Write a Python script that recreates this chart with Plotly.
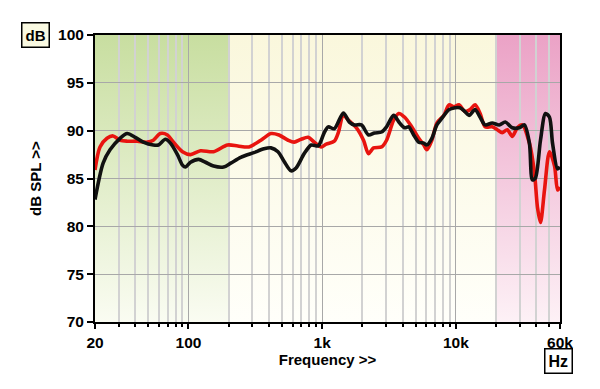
import base64
import numpy as np
import plotly.graph_objects as go

# ---- data ----
black_freq = [20, 23.0, 25.9, 30.8, 34.8, 40.0, 45.9, 54.6, 59.6, 67.2, 73.3, 82.7, 90.2, 95,
              103.6, 119, 134, 154, 183, 207, 246, 308, 367, 414, 467, 518, 585, 638, 733, 828,
              934, 984, 1036, 1110, 1231, 1439, 1596, 1742, 1965, 2219, 2461, 2780, 3029, 3420,
              3793, 4138, 4434, 4833, 5271, 5751, 6057, 6607, 7200, 7855, 8870, 9840, 10720,
              11690, 12530, 13900, 15170, 16530, 18660, 21090, 23390, 26380, 29780, 32490,
              35420, 37320, 39310, 42870, 46750, 50060, 52750, 57560, 60000]
black_db = [82.8, 86.6, 88.0, 89.2, 89.7, 89.3, 88.8, 88.5, 88.5, 89.1, 88.7, 87.5, 86.4, 86.2,
            86.7, 87.0, 86.7, 86.3, 86.2, 86.6, 87.2, 87.7, 88.1, 88.2, 87.8, 86.8, 85.8, 86.1,
            87.6, 88.5, 88.4, 89.0, 89.8, 90.4, 90.2, 91.85, 90.9, 90.6, 90.6, 89.55, 89.76,
            89.86, 90.4, 91.6, 90.8, 90.3, 90.4, 89.55, 88.8, 88.7, 88.5, 89.2, 90.6, 91.3,
            92.2, 92.4, 92.4, 92.0, 91.6, 92.2, 91.4, 90.6, 90.8, 90.6, 90.9, 90.3, 90.3, 90.6,
            88.7, 84.85, 85.06, 89.0, 91.8, 91.4, 88.7, 86.0, 86.2]

red_freq = [20, 21.8, 24.6, 27.3, 30.8, 34.8, 41.4, 49.2, 54.6, 61.6, 69.6, 77.2, 90.2, 103.6,
            123, 154, 196, 234, 283, 348, 414, 475, 556, 617, 696, 785, 872, 984, 1072, 1231,
            1320, 1439, 1570, 1804, 2037, 2219, 2421, 2780, 3029, 3420, 3730, 4138, 4670, 5271,
            5751, 6057, 6607, 7200, 8130, 8870, 9664, 10540, 11690, 12760, 13900, 15170, 16530,
            18660, 20370, 22200, 24210, 26380, 28770, 31350, 35420, 38640, 40700, 42870, 45940,
            50060, 54620, 57560, 60000]
red_db = [85.9, 88.3, 89.2, 89.45, 89.0, 88.9, 88.9, 88.8, 89.0, 89.7, 89.55, 88.8, 87.8, 87.5,
          87.9, 87.8, 88.5, 88.4, 88.3, 89.0, 89.7, 89.55, 89.0, 88.8, 89.1, 89.3, 88.8, 88.3,
          88.6, 88.9, 89.8, 91.6, 91.1, 90.3, 89.0, 87.6, 88.2, 88.3, 89.0, 91.1, 91.8, 91.4,
          90.4, 89.2, 88.5, 88.0, 89.0, 90.8, 91.6, 92.7, 92.5, 92.7, 92.0, 92.2, 92.7, 91.8,
          90.4, 90.4, 90.1, 89.8, 90.1, 89.4, 90.3, 90.6, 88.7, 85.6, 82.0, 80.4, 83.8, 87.8,
          86.3, 83.8, 84.1]

x_tick_vals = [20, 100, 1000, 10000, 60000]
x_tick_text = ["20", "100", "1k", "10k", "60k"]
x_minor_vals = [30, 40, 50, 60, 70, 80, 90, 200, 300, 400, 500, 600, 700, 800, 900,
                2000, 3000, 4000, 5000, 6000, 7000, 8000, 9000, 20000, 30000, 40000, 50000]
y_tick_vals = [70, 75, 80, 85, 90, 95, 100]

band_edges = [20, 200, 20000, 60000]   # green / yellow / pink regions

# ---- background gradient image (SVG data URI) ----
lo, hi = np.log10(20), np.log10(60000)
fr = [(np.log10(v) - lo) / (hi - lo) * 1000 for v in band_edges]
bands = [("g", "#c8dea0", "#fafcf2"), ("y", "#faf7dc", "#fffffa"), ("p", "#eba2c6", "#fdf1f6")]
defs = "".join(
    f'<linearGradient id="{n}" x1="0" y1="0" x2="0" y2="1">'
    f'<stop offset="0" stop-color="{t}"/><stop offset="1" stop-color="{b}"/></linearGradient>'
    for n, t, b in bands)
rects = "".join(
    f'<rect x="{fr[i]:.2f}" y="0" width="{fr[i+1]-fr[i]+0.5:.2f}" height="1000" fill="url(#{bands[i][0]})"/>'
    for i in range(3))
svg = (f'<svg xmlns="http://www.w3.org/2000/svg" width="1000" height="1000" '
       f'viewBox="0 0 1000 1000" preserveAspectRatio="none"><defs>{defs}</defs>{rects}</svg>')
src = "data:image/svg+xml;base64," + base64.b64encode(svg.encode()).decode()

fig = go.Figure()
fig.add_trace(go.Scatter(x=red_freq, y=red_db, mode="lines",
                         line=dict(color="#e8140f", width=3.6, shape="spline", smoothing=0.8),
                         hoverinfo="skip", showlegend=False))
fig.add_trace(go.Scatter(x=black_freq, y=black_db, mode="lines",
                         line=dict(color="#111111", width=3.6, shape="spline", smoothing=0.8),
                         hoverinfo="skip", showlegend=False))

fig.add_layout_image(dict(source=src, xref="paper", yref="paper", x=0, y=1, sizex=1, sizey=1,
                          xanchor="left", yanchor="top", sizing="stretch", layer="below"))

font_b = "Liberation Sans, Arial, sans-serif"
fig.update_layout(
    width=600, height=389,
    margin=dict(l=95, r=40, t=35, b=67),
    paper_bgcolor="white", plot_bgcolor="rgba(0,0,0,0)",
    font=dict(family=font_b, color="black"),
    xaxis=dict(type="log", range=[lo, hi], tickvals=x_tick_vals, ticktext=x_tick_text,
               ticks="outside", ticklen=5, tickwidth=1.5, tickcolor="black",
               showline=True, linecolor="black", linewidth=2, mirror=True,
               showgrid=True, gridcolor="#a8a8a8", gridwidth=1.3,
               tickfont=dict(size=15.5, family=font_b, weight="bold"),
               minor=dict(tickvals=x_minor_vals, ticks="outside", ticklen=3, tickwidth=1.5,
                          tickcolor="black", showgrid=True, gridcolor="#d2d2d2", gridwidth=1.5),
               title=dict(text="<b>Frequency >></b>", font=dict(size=15, family=font_b), standoff=2),
               zeroline=False),
    yaxis=dict(range=[70, 100], tickvals=y_tick_vals, ticks="outside", ticklen=6, tickwidth=1.5,
               tickcolor="black", showline=True, linecolor="black", linewidth=2, mirror=True,
               showgrid=True, gridcolor="#a8a8a8", gridwidth=1.2,
               tickfont=dict(size=15.5, family=font_b, weight="bold"),
               title=dict(text="<b>dB SPL >></b>", font=dict(size=15, family=font_b), standoff=13),
               zeroline=False),
    annotations=[
        dict(text="<b>dB</b>", xref="paper", yref="paper", x=-0.127, y=1.0, xanchor="center",
             yanchor="middle", showarrow=False, font=dict(size=15, family=font_b),
             bgcolor="#fafae2", bordercolor="black", borderwidth=1.5, borderpad=3),
        dict(text="<b>Hz</b>", xref="paper", yref="paper", x=0.996, y=-0.136, xanchor="center",
             yanchor="middle", showarrow=False, font=dict(size=16, family=font_b),
             bgcolor="white", bordercolor="black", borderwidth=1.5, borderpad=3),
    ],
)

fig.write_html("out.html", config={"displayModeBar": False},
               post_script="document.body.style.margin='0px';")
